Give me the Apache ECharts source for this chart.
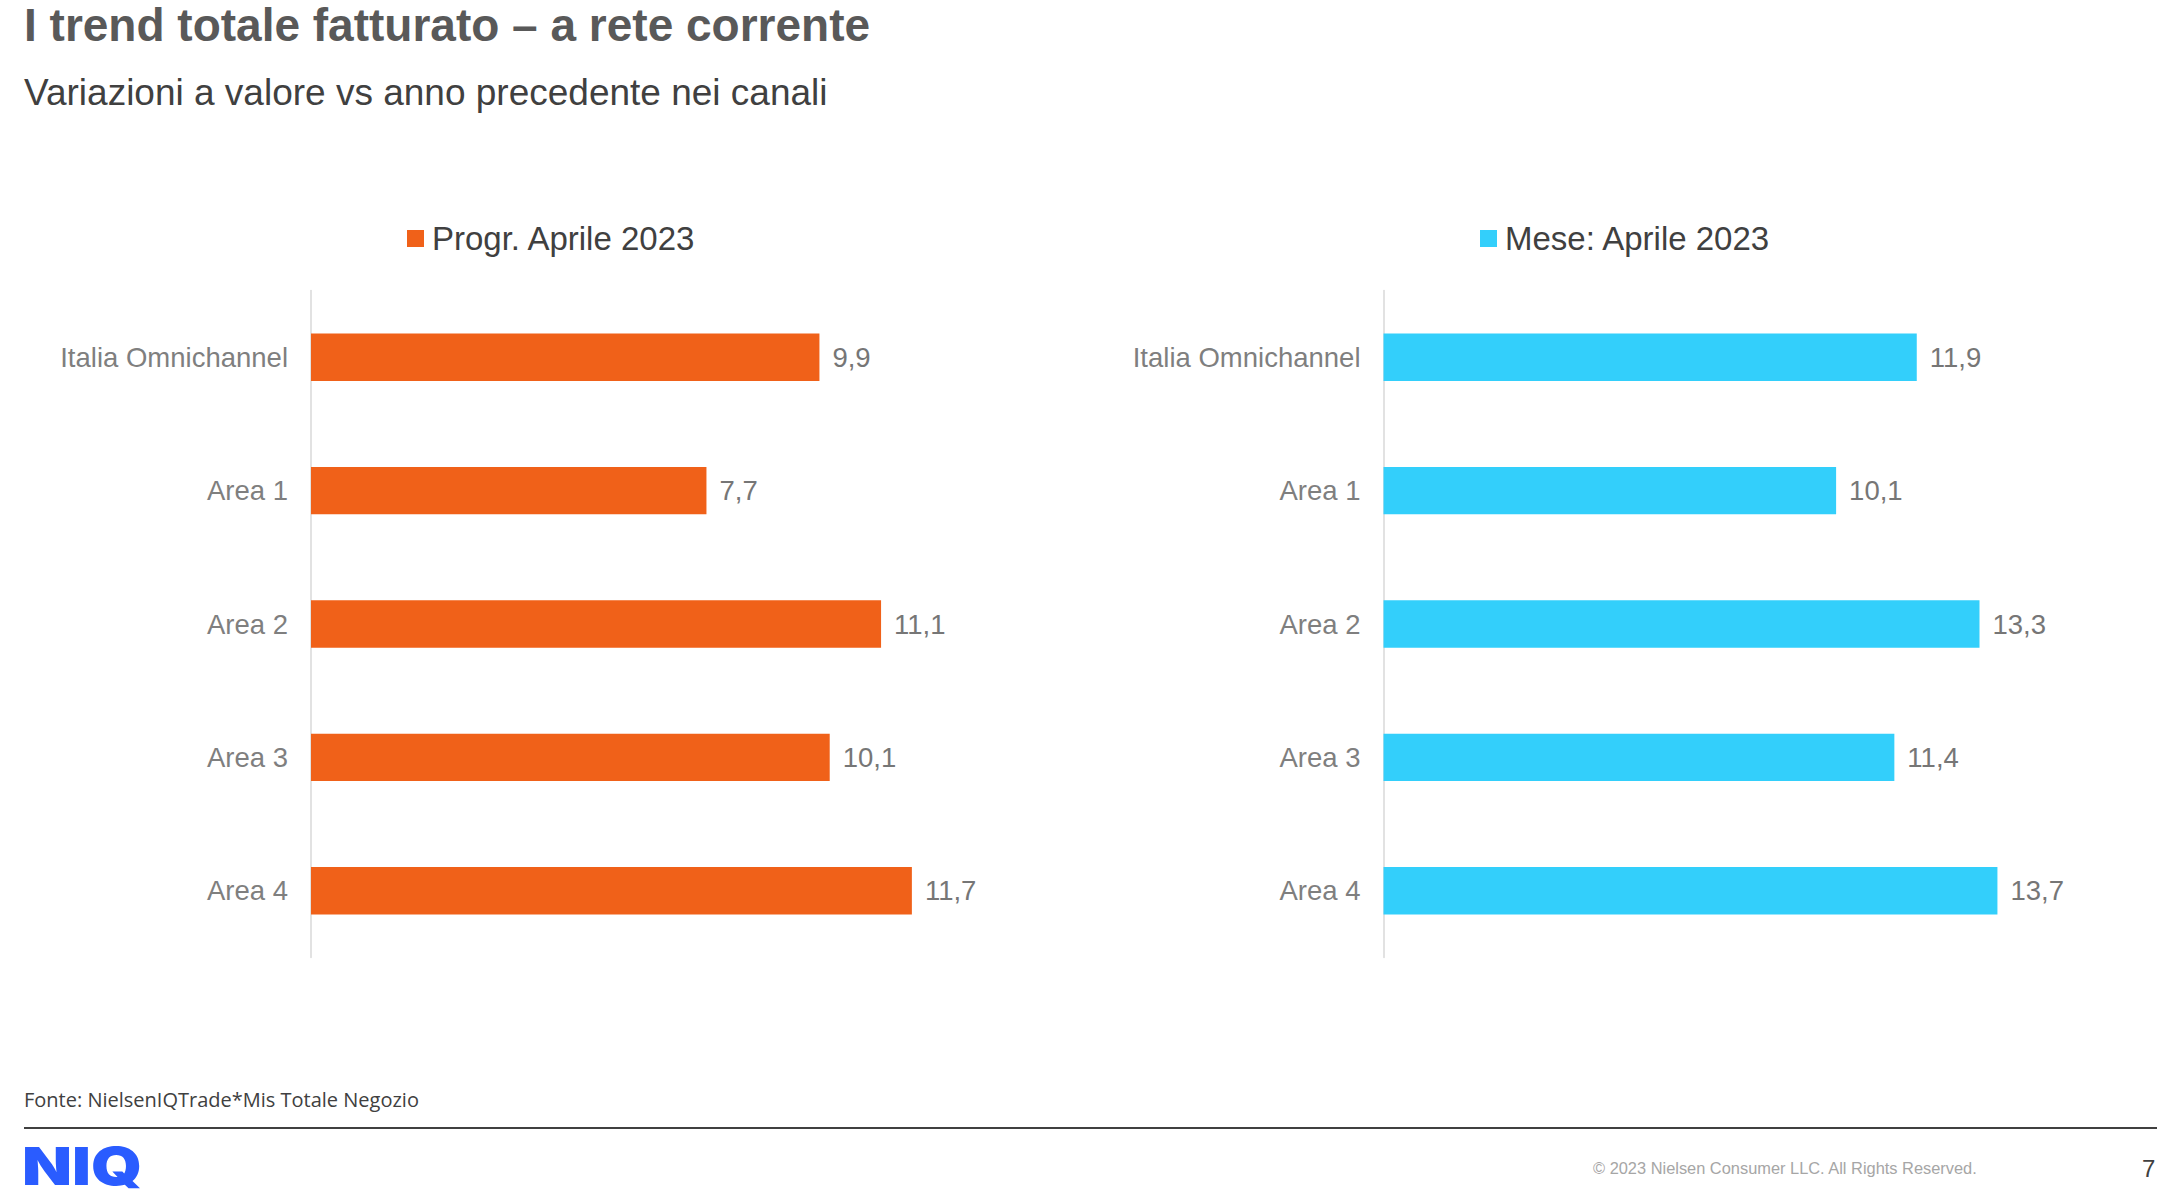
<!DOCTYPE html>
<html>
<head>
<meta charset="utf-8">
<script src="https://cdn.jsdelivr.net/npm/echarts@6/dist/echarts.min.js"></script>
<style>
html,body{margin:0;padding:0;background:#fff;}
#c{width:2181px;height:1201px;}
</style>
</head>
<body>
<div id="c"></div>
<script>
const categories = ['Italia Omnichannel', 'Area 1', 'Area 2', 'Area 3', 'Area 4'];
const progrName = 'Progr. Aprile 2023';
const progrValues = [9.9, 7.7, 11.1, 10.1, 11.7];
const meseName = 'Mese: Aprile 2023';
const meseValues = [11.9, 10.1, 13.3, 11.4, 13.7];

const FONT = '"Liberation Sans", Arial, sans-serif';
const chart = echarts.init(document.getElementById('c'), null, {renderer: 'svg'});

const fmt = p => String(p.value).replace('.', ',');

function yAxisCfg(gi) {
  return {
    type: 'category', gridIndex: gi, data: categories, inverse: true,
    axisLine: {show: true, lineStyle: {color: '#d9d9d9', width: 1.5}},
    axisTick: {show: false},
    axisLabel: {fontFamily: FONT, fontSize: 27.5, color: '#7f7f7f', margin: 23}
  };
}
function xAxisCfg(gi, max) {
  return {
    type: 'value', gridIndex: gi, min: 0, max: max,
    show: false, splitLine: {show: false}
  };
}
function seriesCfg(name, data, gi, color) {
  return {
    name: name, type: 'bar', xAxisIndex: gi, yAxisIndex: gi, data: data,
    barWidth: '35.5%',
    itemStyle: {color: color},
    label: {show: true, position: 'right', distance: 13, formatter: fmt,
      fontFamily: FONT, fontSize: 27.5, color: '#767676'}
  };
}

chart.setOption({
  animation: false,
  backgroundColor: '#fff',
  grid: [
    {left: 311, top: 290.5, width: 719, height: 667},
    {left: 1383.5, top: 290.5, width: 717, height: 667}
  ],
  xAxis: [xAxisCfg(0, 14), xAxisCfg(1, 16)],
  yAxis: [yAxisCfg(0), yAxisCfg(1)],
  legend: [
    {data: [progrName], left: 402, top: 217, icon: 'rect', itemWidth: 17, itemHeight: 17,
      itemGap: 0, selectedMode: false,
      textStyle: {fontFamily: FONT, fontSize: 33, color: '#404040', padding: [0, 0, 0, 3]}},
    {data: [meseName], left: 1475, top: 217, icon: 'rect', itemWidth: 17, itemHeight: 17,
      itemGap: 0, selectedMode: false,
      textStyle: {fontFamily: FONT, fontSize: 33, color: '#404040', padding: [0, 0, 0, 3]}}
  ],
  series: [
    seriesCfg(progrName, progrValues, 0, '#F06119'),
    seriesCfg(meseName, meseValues, 1, '#33CFFB')
  ],
  graphic: [
    {type: 'text', left: 24, top: 1, style: {text: 'I trend totale fatturato – a rete corrente',
      fontFamily: FONT, fontSize: 46, lineHeight: 48, fontWeight: 'bold', fill: '#595959'}},
    {type: 'text', left: 24, top: 74, style: {text: 'Variazioni a valore vs anno precedente nei canali',
      fontFamily: FONT, fontSize: 37, fill: '#404040'}},
    {type: 'text', left: 24, top: 1089, style: {text: 'Fonte: NielsenIQTrade*Mis Totale Negozio',
      fontFamily: '"Open Sans", sans-serif', fontSize: 20, fill: '#404040'}},
    {type: 'line', shape: {x1: 24, y1: 1128, x2: 2157, y2: 1128},
      style: {stroke: '#404040', lineWidth: 2}},
    {type: 'text', left: 22, top: 1140, scaleX: 1.25, style: {text: 'NIQ',
      fontFamily: 'Inter, sans-serif', fontSize: 52, lineHeight: 44, fontWeight: 900, fill: '#2A5CFF'}},
    {type: 'text', left: 1593, top: 1160, style: {text: '© 2023 Nielsen Consumer LLC. All Rights Reserved.',
      fontFamily: FONT, fontSize: 16.4, fill: '#a6a6a6'}},
    {type: 'text', left: 2142, top: 1156, style: {text: '7',
      fontFamily: FONT, fontSize: 24, fill: '#404040'}}
  ]
});
</script>
</body>
</html>
